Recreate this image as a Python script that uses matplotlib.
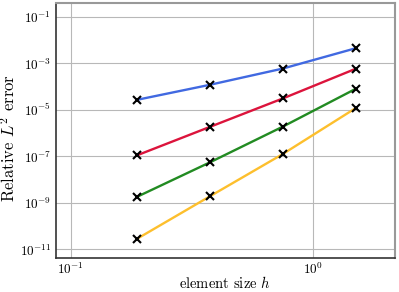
import matplotlib
matplotlib.use("Agg")
import matplotlib.pyplot as plt

plt.rcParams['font.family'] = 'serif'
plt.rcParams['font.serif'] = ['cmr10']
plt.rcParams['mathtext.fontset'] = 'cm'
plt.rcParams['axes.formatter.use_mathtext'] = True

# element sizes and relative L2 errors per polynomial order
h = [0.1875, 0.375, 0.75, 1.5]
err_p1 = [2.7e-5, 1.2e-4, 6.0e-4, 4.5e-3]
err_p2 = [1.1e-7, 1.85e-6, 3.1e-5, 5.9e-4]
err_p3 = [1.8e-9, 5.5e-8, 1.9e-6, 8.1e-5]
err_p4 = [2.8e-11, 1.9e-9, 1.26e-7, 1.2e-5]

colors = ['#4169e1', '#dc143c', '#228b22', '#fdbf2d']

fig = plt.figure(figsize=(3.99, 2.92), dpi=100)
ax = fig.add_axes([55.5/399, 1 - 257.5/292, (395 - 55.5)/399, (257.5 - 3)/292])

for errs, c in zip([err_p1, err_p2, err_p3, err_p4], colors):
    ax.plot(h, errs, color=c, lw=1.7, zorder=2)
    ax.plot(h, errs, 'x', color='k', ms=5.5, mew=1.5, zorder=3)

ax.set_xscale('log')
ax.set_yscale('log')
ax.set_xlim(10**-1.062, 10**0.338)
ax.set_ylim(10**-11.35, 10**-0.4)
ax.set_yticks([1e-11, 1e-9, 1e-7, 1e-5, 1e-3, 1e-1])
ax.set_xticks([1e-1, 1e0])
ax.minorticks_off()
ax.tick_params(length=0, labelsize=9.5, pad=3)

ax.grid(True, color='#b8b8b8', lw=0.8, zorder=0)
for s in ['top', 'right']:
    ax.spines[s].set_color('#999999')
    ax.spines[s].set_linewidth(1.5)
for s in ['left', 'bottom']:
    ax.spines[s].set_color('#333333')
    ax.spines[s].set_linewidth(1.2)

ax.set_xlabel('element size $h$', fontsize=10.5)
ax.set_ylabel('Relative $L^2$ error', fontsize=12)
ax.xaxis.set_label_coords(0.5, -0.068)
ax.yaxis.set_label_coords(-0.11, 0.47)

fig.savefig('out.png', dpi=100)
